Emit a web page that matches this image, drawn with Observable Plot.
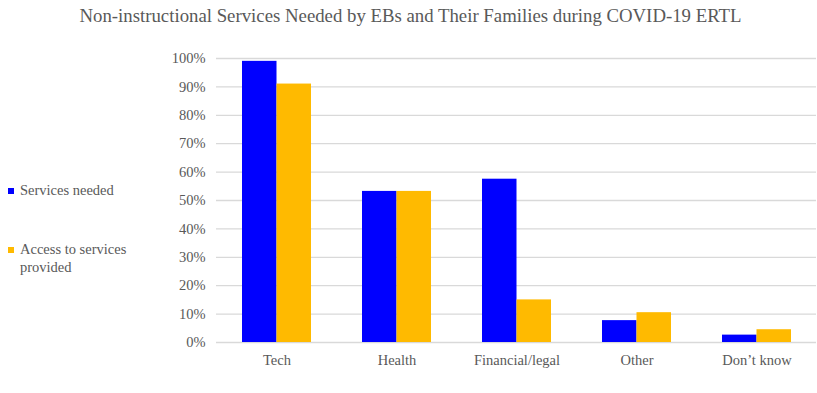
<!DOCTYPE html>
<html><head><meta charset="utf-8">
<script src="https://cdn.jsdelivr.net/npm/d3@7"></script>
<script src="https://cdn.jsdelivr.net/npm/@observablehq/plot@0.6"></script>
<style>
body{margin:0;background:#fff;font-family:'Liberation Serif','Times New Roman','DejaVu Serif',serif;}
#wrap{position:relative;width:817px;height:393px;}
#title{position:absolute;left:2px;top:5px;width:817px;text-align:center;font-size:18.8px;color:#595959;white-space:nowrap;}
#chart{position:absolute;left:0;top:40px;}
.leg{position:absolute;left:8px;font-size:14.5px;color:#595959;line-height:18px;}
.sw{position:absolute;left:0;width:6px;height:6px;}
.lt{position:absolute;left:12px;white-space:nowrap;}
</style></head>
<body><div id="wrap">
<div id="title">Non-instructional Services Needed by EBs and Their Families during COVID-19 ERTL</div>
<div id="chart"></div>
<div class="leg" style="top:181px"><div class="sw" style="top:7px;background:#0000FF"></div><div class="lt">Services needed</div></div>
<div class="leg" style="top:240px"><div class="sw" style="top:7px;background:#FFBA00"></div><div class="lt">Access to services<br>provided</div></div>
</div>
<script>
const categories = ["Tech", "Health", "Financial/legal", "Other", "Don\u2019t know"];
const servicesNeeded = [0.99, 0.532, 0.575, 0.077, 0.026];
const accessProvided = [0.91, 0.532, 0.15, 0.105, 0.045];
const yTicks = [0, 0.1, 0.2, 0.3, 0.4, 0.5, 0.6, 0.7, 0.8, 0.9, 1.0];

const needed = categories.map((c, i) => ({cat: c, v: servicesNeeded[i]}));
const access = categories.map((c, i) => ({cat: c, v: accessProvided[i]}));

const chart = Plot.plot({
  width: 817,
  height: 353,
  marginLeft: 216,
  marginRight: 1,
  marginTop: 18,
  marginBottom: 51,
  style: {fontFamily: "'Liberation Serif','Times New Roman','DejaVu Serif',serif", fontSize: "14.5px", color: "#595959", background: "transparent"},
  x: {domain: categories, paddingInner: 0.425, paddingOuter: 0.2125, label: null, tickSize: 0, tickPadding: 12},
  y: {domain: [0, 1], ticks: yTicks, tickFormat: d3.format(".0%"), label: null, tickSize: 0, tickPadding: 11},
  marks: [
    Plot.ruleY(yTicks, {stroke: "#D9D9D9", strokeWidth: 1.3}),
    Plot.barY(needed, {x: "cat", y: "v", fill: "#0000FF", insetRight: 34.5}),
    Plot.barY(access, {x: "cat", y: "v", fill: "#FFBA00", insetLeft: 34.5})
  ]
});
document.getElementById("chart").appendChild(chart);
</script>
</body></html>
